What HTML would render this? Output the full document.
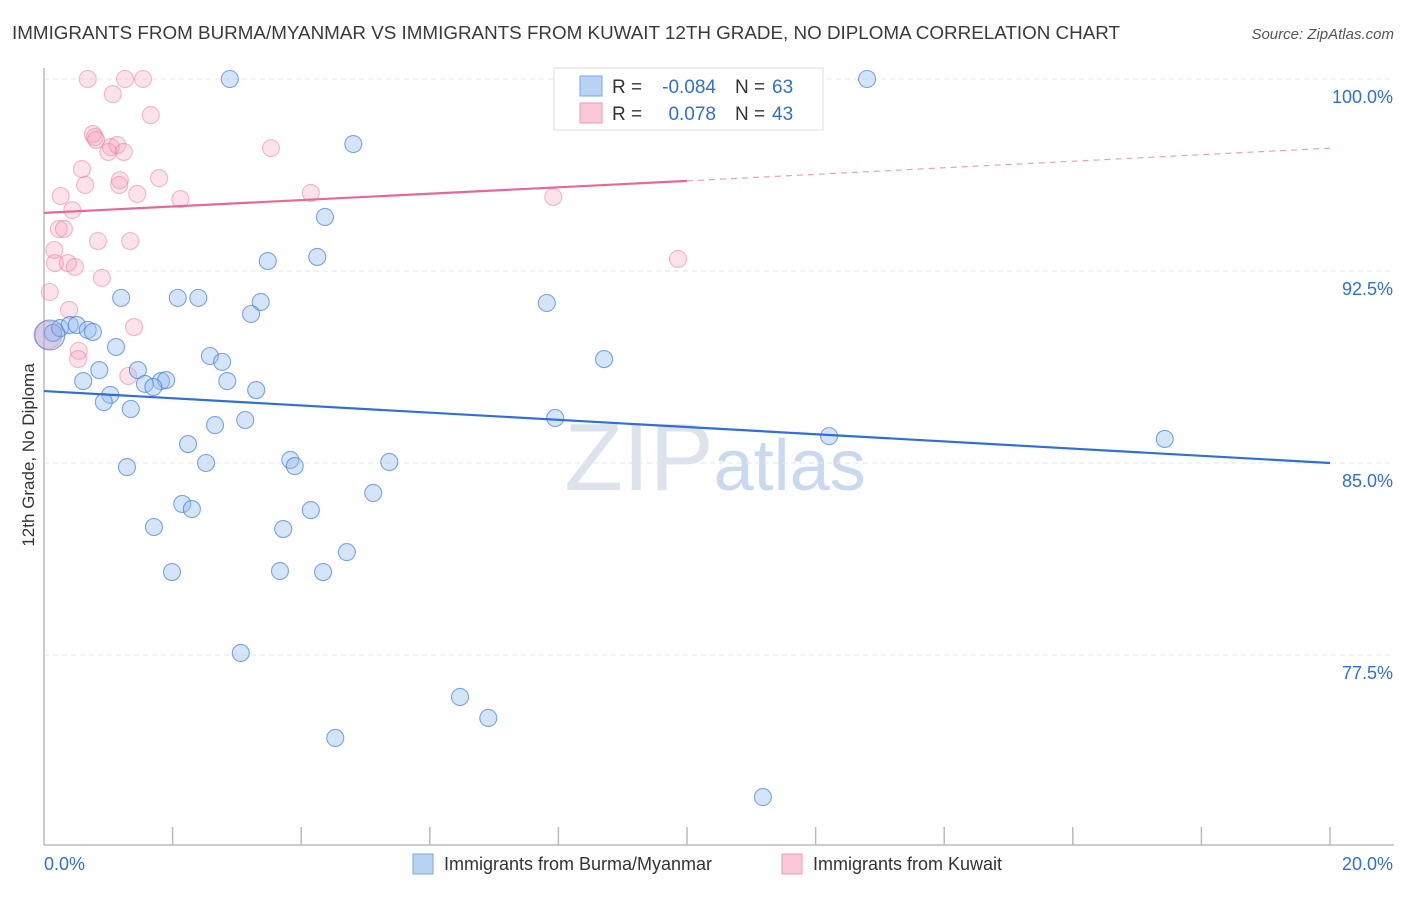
<!DOCTYPE html>
<html><head><meta charset="utf-8"><style>
body{margin:0;background:#fff;font-family:"Liberation Sans",sans-serif}
svg text{font-family:"Liberation Sans",sans-serif}
</style></head><body>
<svg id="chart" width="1406" height="892" xmlns="http://www.w3.org/2000/svg">
<text x="12" y="39" font-size="18" textLength="1108" lengthAdjust="spacingAndGlyphs" fill="#3a3a3a">IMMIGRANTS FROM BURMA/MYANMAR VS IMMIGRANTS FROM KUWAIT 12TH GRADE, NO DIPLOMA CORRELATION CHART</text>
<text x="1394" y="39" font-size="15" fill="#555" text-anchor="end" font-style="italic">Source: ZipAtlas.com</text>
<text x="715" y="490" font-size="96" fill="#dde3ec" text-anchor="middle" font-family="Liberation Serif">ZIP<tspan fill="#c9d9f0" font-family="Liberation Sans" font-size="72">atlas</tspan></text>
<g id="grid"></g><g id="axes"></g>
<text transform="translate(34,455) rotate(-90)" font-size="17" fill="#333" text-anchor="middle">12th Grade, No Diploma</text>
<g id="marks"></g>
<g>
<rect x="554" y="68" width="269" height="62" fill="#fff" stroke="#ddd"/>
<rect x="580" y="76" width="22" height="20" fill="#b9d3f5" stroke="#7aa7e6"/>
<rect x="580" y="103" width="22" height="20" fill="#fbc8d8" stroke="#ef9ab6"/>
<text x="612" y="93" font-size="19" fill="#333">R =</text>
<text x="716" y="93" font-size="19" fill="#2f6fd6" text-anchor="end">-0.084</text>
<text x="735" y="93" font-size="19" fill="#333">N =</text>
<text x="772" y="93" font-size="19" fill="#2f6fd6">63</text>
<text x="612" y="120" font-size="19" fill="#333">R =</text>
<text x="716" y="120" font-size="19" fill="#2f6fd6" text-anchor="end">0.078</text>
<text x="735" y="120" font-size="19" fill="#333">N =</text>
<text x="772" y="120" font-size="19" fill="#2f6fd6">43</text>
</g>
<g>
<rect x="413" y="854" width="20" height="20" fill="#b9d3f5" stroke="#7aa7e6"/>
<text x="444" y="870" font-size="18" fill="#333">Immigrants from Burma/Myanmar</text>
<rect x="782" y="854" width="20" height="20" fill="#fbc8d8" stroke="#ef9ab6"/>
<text x="813" y="870" font-size="18" fill="#333">Immigrants from Kuwait</text>
</g>
</svg>
<script>
const blueX=[2.89,12.80,4.81,4.37,3.48,4.25,1.20,2.08,2.40,3.37,3.22,7.82,8.71,0.14,0.25,0.40,0.51,0.68,0.76,1.12,1.46,0.86,2.58,2.77,0.61,1.57,1.82,1.90,1.03,0.93,2.85,3.30,1.35,1.70,7.95,12.21,17.43,2.66,3.13,2.24,1.29,2.52,3.83,3.90,5.37,5.12,2.15,2.30,4.15,1.71,3.72,4.71,1.99,3.67,4.34,3.06,6.47,6.91,4.53,11.18,0.09];
const blueY=[100,100,97.46,94.61,92.89,93.05,91.45,91.45,91.45,91.29,90.82,91.25,89.06,90.08,90.27,90.39,90.39,90.20,90.12,89.53,88.63,88.63,89.18,88.95,88.20,88.09,88.20,88.24,87.66,87.38,88.20,87.85,87.11,87.97,86.76,86.05,85.94,86.48,86.68,85.74,84.84,85.00,85.12,84.88,85.04,83.83,83.40,83.20,83.16,82.50,82.42,81.52,80.74,80.78,80.74,77.58,75.86,75.04,74.26,71.95,90.00];
const pinkX=[0.68,1.26,1.54,1.07,1.66,0.76,0.79,1.04,1.14,1.00,1.24,0.81,3.53,0.59,1.18,1.79,0.64,1.17,1.45,4.15,2.12,7.92,0.26,0.44,0.23,0.31,0.84,1.34,0.16,0.17,0.37,0.48,9.86,0.90,0.09,0.39,1.40,0.54,0.53,1.31,0.06];
const pinkY=[100,100,100,99.41,98.59,97.85,97.73,97.34,97.42,97.15,97.15,97.62,97.30,96.48,96.05,96.13,95.86,95.86,95.51,95.55,95.31,95.39,95.43,94.88,94.14,94.14,93.67,93.67,93.32,92.81,92.81,92.66,92.97,92.23,91.68,90.98,90.31,89.38,89.06,88.40,90.00];
const blueTrend=[87.81,85.0];
const pinkTrend=[94.77,96.02,97.30];
const yTicks=[100,92.5,85,77.5];
const yTickLabels=["100.0%","92.5%","85.0%","77.5%"];
const xTicks=[2,4,6,8,10,12,14,16,18,20];
const NS="http://www.w3.org/2000/svg";
const sx=v=>44+v*64.3;
const sy=v=>79+(100-v)*25.6;
function mk(t,a,p){const e=document.createElementNS(NS,t);for(const k in a)e.setAttribute(k,a[k]);document.getElementById(p).appendChild(e);return e;}
yTicks.forEach((t,i)=>{
 const l=mk('line',{x1:44,x2:1394,y1:sy(t),y2:sy(t),stroke:'#e6e6e6','stroke-dasharray':'5,4'},'grid');
 
 
 const tx=mk('text',{x:1393,y:sy(t)+24,'font-size':18,fill:'#2f6fd6','text-anchor':'end'},'axes');
 tx.textContent=yTickLabels[i];
 
 
});
const ax=mk('line',{x1:44,x2:44,y1:68,y2:845,stroke:'#bbb','stroke-width':1.5},'axes');


const bx=mk('line',{x1:44,x2:1394,y1:845,y2:845,stroke:'#bbb','stroke-width':1.5},'axes');


xTicks.forEach(t=>{
 const l=mk('line',{x1:sx(t),x2:sx(t),y1:827,y2:845,stroke:'#bbb','stroke-width':1.5},'axes');
 
 
});
const x0=mk('text',{x:44,y:870,'font-size':18,fill:'#2f6fd6'},'axes');x0.textContent='0.0%';


const x1=mk('text',{x:1393,y:870,'font-size':18,fill:'#2f6fd6','text-anchor':'end'},'axes');x1.textContent='20.0%';


pinkX.forEach((x,i)=>{
 const big=i>=pinkX.length-2&&x<0.1;
 const c=mk('circle',{cx:sx(x),cy:sy(pinkY[i]),r:big?14:8.5,fill:'rgba(245,160,190,0.3)',stroke:'rgba(232,120,160,0.5)','stroke-width':1.1},'marks');
 
 
});
blueX.forEach((x,i)=>{
 const big=i===blueX.length-1;
 const c=mk('circle',{cx:sx(x),cy:sy(blueY[i]),r:big?15:8.5,fill:big?'rgba(140,165,225,0.35)':'rgba(150,190,240,0.4)',stroke:'rgba(60,120,215,0.65)','stroke-width':1.1},'marks');
 
 
});
const bt=mk('line',{x1:sx(0),y1:sy(blueTrend[0]),x2:sx(20),y2:sy(blueTrend[1]),stroke:'#2f6fd6','stroke-width':2.2},'marks');


const pt=mk('line',{x1:sx(0),y1:sy(pinkTrend[0]),x2:sx(10),y2:sy(pinkTrend[1]),stroke:'#e8679a','stroke-width':2.2},'marks');


const pd=mk('line',{x1:sx(10),y1:sy(pinkTrend[1]),x2:sx(20),y2:sy(pinkTrend[2]),stroke:'#eaa0bd','stroke-width':1.2,'stroke-dasharray':'6,5'},'marks');


</script>
</body></html>
